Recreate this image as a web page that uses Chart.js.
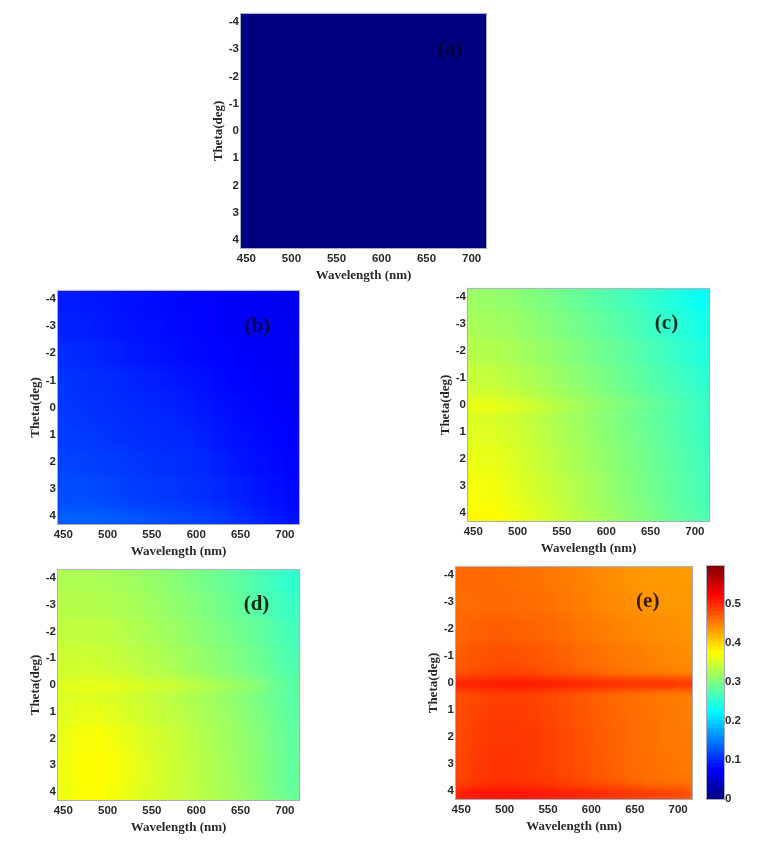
<!DOCTYPE html>
<html>
<head>
<meta charset="utf-8">
<title>Theta vs wavelength maps</title>
<script src="https://cdn.jsdelivr.net/npm/chart.js@4/dist/chart.umd.min.js"></script>
<style>
  html, body { margin: 0; background: #fff; }
  #page { position: relative; width: 762px; height: 841px; overflow: hidden; }
  canvas { position: absolute; filter: blur(0.45px); }
</style>
</head>
<body>
<div id="page"></div>
<script>
const wavelengths = [450, 470, 490, 510, 530, 550, 570, 590, 610, 630, 650, 670, 690, 710];
const thetaEdges = [-4.3, -3.5, -2.5, -1.5, -0.7, -0.2, 0.2, 0.7, 1.5, 2.5, 3.5, 3.9, 4.3];
const wavelengthTicks = [450, 500, 550, 600, 650, 700];
const thetaTicks = [-4, -3, -2, -1, 0, 1, 2, 3, 4];
const colorTicks = [0, 0.1, 0.2, 0.3, 0.4, 0.5];
const colorLevels = [0, .01, .02, .03, .04, .05, .06, .07, .08, .09, .1, .11, .12, .13, .14, .15, .16, .17, .18, .19,
  .2, .21, .22, .23, .24, .25, .26, .27, .28, .29, .3, .31, .32, .33, .34, .35, .36, .37, .38, .39,
  .4, .41, .42, .43, .44, .45, .46, .47, .48, .49, .5, .51, .52, .53, .54, .55, .56, .57, .58, .59];

const valuesA = [
  [0, 0, 0, 0, 0, 0, 0, 0, 0, 0, 0, 0, 0, 0],
  [0, 0, 0, 0, 0, 0, 0, 0, 0, 0, 0, 0, 0, 0],
  [0, 0, 0, 0, 0, 0, 0, 0, 0, 0, 0, 0, 0, 0],
  [0, 0, 0, 0, 0, 0, 0, 0, 0, 0, 0, 0, 0, 0],
  [0, 0, 0, 0, 0, 0, 0, 0, 0, 0, 0, 0, 0, 0],
  [0, 0, 0, 0, 0, 0, 0, 0, 0, 0, 0, 0, 0, 0],
  [0, 0, 0, 0, 0, 0, 0, 0, 0, 0, 0, 0, 0, 0],
  [0, 0, 0, 0, 0, 0, 0, 0, 0, 0, 0, 0, 0, 0],
  [0, 0, 0, 0, 0, 0, 0, 0, 0, 0, 0, 0, 0, 0],
  [0, 0, 0, 0, 0, 0, 0, 0, 0, 0, 0, 0, 0, 0],
  [0, 0, 0, 0, 0, 0, 0, 0, 0, 0, 0, 0, 0, 0],
  [0, 0, 0, 0, 0, 0, 0, 0, 0, 0, 0, 0, 0, 0],
];
const valuesB = [
  [.090, .089, .087, .085, .083, .081, .079, .077, .075, .073, .071, .069, .067, .065],
  [.094, .092, .090, .087, .085, .083, .080, .078, .076, .074, .072, .070, .068, .066],
  [.100, .098, .095, .092, .088, .085, .083, .080, .078, .076, .074, .072, .070, .068],
  [.105, .103, .100, .098, .095, .092, .088, .085, .082, .078, .076, .074, .072, .070],
  [.106, .104, .102, .100, .097, .095, .092, .089, .085, .081, .078, .076, .073, .071],
  [.107, .105, .103, .101, .099, .096, .094, .091, .087, .083, .079, .077, .074, .072],
  [.108, .106, .104, .102, .100, .098, .096, .093, .089, .085, .080, .078, .075, .073],
  [.110, .108, .106, .104, .102, .100, .098, .096, .092, .087, .083, .080, .077, .074],
  [.114, .113, .111, .109, .106, .104, .102, .100, .097, .092, .087, .083, .079, .076],
  [.118, .119, .117, .114, .111, .108, .106, .104, .101, .097, .092, .087, .082, .078],
  [.124, .125, .123, .120, .117, .114, .111, .109, .106, .102, .097, .091, .085, .081],
  [.133, .135, .134, .131, .128, .125, .121, .118, .114, .109, .103, .096, .089, .084],
];
const valuesC = [
  [.315, .313, .309, .303, .297, .290, .283, .276, .269, .262, .254, .246, .236, .226],
  [.322, .320, .316, .310, .304, .297, .290, .283, .276, .269, .261, .253, .244, .236],
  [.330, .328, .324, .318, .312, .305, .298, .291, .284, .276, .268, .260, .251, .243],
  [.340, .338, .333, .327, .320, .312, .305, .298, .290, .282, .274, .266, .258, .250],
  [.348, .345, .340, .333, .326, .318, .311, .303, .295, .287, .279, .271, .262, .254],
  [.365, .365, .360, .352, .342, .330, .322, .313, .304, .296, .288, .279, .270, .260],
  [.352, .350, .345, .338, .330, .323, .315, .307, .298, .290, .282, .274, .265, .257],
  [.356, .354, .349, .342, .334, .326, .318, .310, .301, .293, .285, .277, .268, .259],
  [.362, .360, .355, .347, .339, .330, .322, .314, .305, .297, .288, .280, .271, .262],
  [.368, .366, .360, .352, .344, .335, .327, .318, .309, .300, .291, .283, .274, .265],
  [.372, .370, .364, .356, .347, .338, .329, .320, .311, .303, .294, .285, .276, .267],
  [.378, .376, .370, .361, .352, .342, .333, .324, .315, .306, .297, .288, .279, .269],
];
const valuesD = [
  [.325, .325, .324, .321, .317, .312, .306, .299, .292, .285, .277, .269, .258, .250],
  [.330, .330, .329, .326, .322, .317, .311, .305, .298, .291, .283, .275, .265, .257],
  [.336, .337, .336, .333, .328, .323, .317, .311, .304, .297, .290, .282, .272, .263],
  [.342, .344, .343, .339, .334, .329, .323, .317, .310, .303, .296, .288, .277, .268],
  [.346, .349, .348, .344, .339, .333, .328, .321, .314, .307, .300, .292, .281, .271],
  [.358, .361, .361, .359, .355, .351, .347, .341, .333, .324, .316, .305, .290, .276],
  [.351, .354, .353, .349, .344, .338, .332, .326, .319, .312, .304, .296, .285, .274],
  [.356, .360, .360, .355, .349, .343, .337, .331, .323, .316, .308, .299, .288, .277],
  [.361, .368, .370, .365, .356, .349, .343, .336, .328, .320, .312, .303, .291, .279],
  [.362, .372, .374, .369, .360, .352, .345, .338, .330, .322, .314, .304, .292, .280],
  [.361, .371, .373, .368, .359, .352, .345, .338, .331, .323, .315, .305, .293, .281],
  [.360, .370, .372, .367, .358, .351, .344, .338, .331, .323, .315, .305, .293, .282],
];
const valuesE = [
  [.462, .462, .460, .458, .456, .453, .450, .446, .442, .438, .435, .433, .432, .431],
  [.458, .460, .461, .460, .459, .456, .452, .448, .444, .441, .438, .436, .434, .433],
  [.462, .466, .468, .467, .465, .462, .458, .454, .450, .446, .443, .440, .438, .436],
  [.468, .473, .476, .475, .473, .469, .465, .460, .456, .452, .449, .446, .442, .440],
  [.472, .477, .480, .480, .478, .474, .470, .465, .460, .456, .452, .449, .446, .444],
  [.505, .508, .510, .511, .511, .509, .507, .505, .503, .501, .500, .500, .500, .495],
  [.476, .481, .485, .485, .483, .479, .475, .470, .465, .460, .456, .453, .450, .447],
  [.478, .484, .488, .488, .486, .482, .477, .472, .467, .462, .458, .455, .452, .449],
  [.480, .487, .491, .491, .489, .485, .480, .474, .469, .464, .459, .456, .453, .450],
  [.480, .489, .493, .493, .490, .486, .481, .476, .470, .465, .460, .457, .454, .452],
  [.484, .491, .494, .494, .492, .489, .484, .480, .475, .470, .465, .460, .457, .455],
  [.510, .515, .517, .517, .515, .512, .509, .506, .503, .499, .495, .492, .489, .485],
];

const COLOR_MAX = 0.597;
const TICK_FONT = { family: '"Liberation Sans", Arial, sans-serif', size: 11.5, weight: 'bold' };
const TITLE_FONT = { family: '"Liberation Serif", "Times New Roman", serif', size: 13, weight: 'bold' };
const TEXT_COLOR = '#2a2a2a';
const FRAME_COLOR = '#a9adbc';

// MATLAB jet colormap
function jet(value) {
  const t = Math.max(0, Math.min(1, value / COLOR_MAX));
  const ch = (c) => Math.round(255 * Math.max(0, Math.min(1, 1.5 - Math.abs(4 * t - c))));
  return `rgb(${ch(3)},${ch(2)},${ch(1)})`;
}

const panelFrame = {
  id: 'panelFrame',
  // soften the cells like the interpolated shading of the original
  afterDatasetsDraw(chart, args, opts) {
    if (!opts.label) return;
    const { ctx, chartArea: a } = chart;
    const pad = 20;
    const off = document.createElement('canvas');
    off.width = a.width + 2 * pad;
    off.height = a.height + 2 * pad;
    const g = off.getContext('2d');
    g.drawImage(chart.canvas, a.left, a.top, a.width, a.height, 0, 0, off.width, off.height);
    g.drawImage(chart.canvas, a.left, a.top, a.width, a.height, pad, pad, a.width, a.height);
    ctx.save();
    ctx.beginPath();
    ctx.rect(a.left, a.top, a.width, a.height);
    ctx.clip();
    ctx.filter = 'blur(4px)';
    ctx.drawImage(off, a.left - pad, a.top - pad);
    ctx.restore();
  },
  afterDraw(chart, args, opts) {
    const { ctx, chartArea: a, scales } = chart;
    ctx.save();
    ctx.strokeStyle = FRAME_COLOR;
    ctx.lineWidth = 1;
    ctx.strokeRect(a.left - 0.5, a.top - 0.5, a.width + 1, a.height + 1);
    if (opts.label) {
      ctx.fillStyle = opts.labelColor;
      ctx.font = 'bold 21px "Liberation Serif", serif';
      ctx.textAlign = 'center';
      ctx.textBaseline = 'middle';
      ctx.fillText(opts.label, scales.x.getPixelForValue(opts.labelX), scales.y.getPixelForValue(opts.labelY));
    }
    ctx.restore();
  },
};

function addCanvas(left, top, width, height) {
  const canvas = document.createElement('canvas');
  canvas.width = width;
  canvas.height = height;
  canvas.style.left = left + 'px';
  canvas.style.top = top + 'px';
  canvas.style.width = width + 'px';
  canvas.style.height = height + 'px';
  document.getElementById('page').appendChild(canvas);
  return canvas;
}

function renderPanel(box, grid, label, labelColor, labelX) {
  const canvas = addCanvas(box.left - 36, box.top - 8, box.width + 40, box.height + 45);

  const datasets = grid.map((row, r) => ({
    data: row.map((v, c) => ({ x: wavelengths[c], y: [thetaEdges[r], thetaEdges[r + 1]] })),
    backgroundColor: row.map(jet),
    borderWidth: 0,
    inflateAmount: 0.6,
    grouped: false,
    barPercentage: 1,
    categoryPercentage: 1,
  }));

  new Chart(canvas, {
    type: 'bar',
    data: { datasets },
    plugins: [panelFrame],
    options: {
      responsive: false,
      animation: false,
      layout: { padding: { left: 4, top: 4, right: 4, bottom: 2 } },
      plugins: {
        legend: { display: false },
        tooltip: { enabled: false },
        panelFrame: { label, labelColor, labelX, labelY: -3 },
      },
      scales: {
        x: {
          type: 'linear',
          offset: false,
          min: 444,
          max: 716,
          afterBuildTicks: (scale) => { scale.ticks = wavelengthTicks.map((value) => ({ value })); },
          afterFit: (scale) => { scale.height = 35; },
          grid: { display: false, drawTicks: false },
          border: { display: false },
          ticks: { font: TICK_FONT, color: TEXT_COLOR, padding: 4, maxRotation: 0, autoSkip: false },
          title: { display: true, text: 'Wavelength (nm)', font: TITLE_FONT, color: TEXT_COLOR, padding: { top: 1, bottom: 0 } },
        },
        y: {
          type: 'linear',
          reverse: true,
          min: -4.3,
          max: 4.3,
          afterBuildTicks: (scale) => { scale.ticks = thetaTicks.map((value) => ({ value })); },
          afterFit: (scale) => { scale.width = 32; },
          grid: { display: false, drawTicks: false },
          border: { display: false },
          ticks: { font: TICK_FONT, color: TEXT_COLOR, padding: 2, autoSkip: false },
          title: { display: true, text: 'Theta(deg)', font: TITLE_FONT, color: TEXT_COLOR, padding: { top: 2, bottom: 0 } },
        },
      },
    },
  });
}

function renderColorbar(box) {
  const canvas = addCanvas(box.left - 4, box.top - 8, box.width + 38, box.height + 18);

  const datasets = colorLevels.map((level, i) => ({
    data: [{ x: 'c', y: [level, i + 1 < colorLevels.length ? colorLevels[i + 1] : COLOR_MAX] }],
    backgroundColor: jet(level + 0.005),
    borderWidth: 0,
    inflateAmount: 0.6,
    grouped: false,
    barPercentage: 1,
    categoryPercentage: 1,
  }));

  new Chart(canvas, {
    type: 'bar',
    data: { labels: ['c'], datasets },
    plugins: [panelFrame],
    options: {
      responsive: false,
      animation: false,
      layout: { padding: { left: 4, top: 4, right: 4, bottom: 10 } },
      plugins: { legend: { display: false }, tooltip: { enabled: false }, panelFrame: {} },
      scales: {
        x: { display: false, offset: true },
        y: {
          type: 'linear',
          position: 'right',
          min: 0,
          max: COLOR_MAX,
          afterBuildTicks: (scale) => { scale.ticks = colorTicks.map((value) => ({ value })); },
          afterFit: (scale) => { scale.width = 30; },
          grid: { display: false, drawTicks: false },
          border: { display: false },
          ticks: { font: TICK_FONT, color: TEXT_COLOR, padding: 1, autoSkip: false },
        },
      },
    },
  });
}

renderPanel({ left: 241, top: 13, width: 245, height: 235 }, valuesA, '(a)', '#000030', 676);
renderPanel({ left: 58, top: 290, width: 241, height: 234 }, valuesB, '(b)', '#000050', 669);
renderPanel({ left: 468, top: 288, width: 241, height: 233 }, valuesC, '(c)', '#0a2a24', 668);
renderPanel({ left: 58, top: 569, width: 241, height: 231 }, valuesD, '(d)', '#0a2a14', 668);
renderPanel({ left: 456, top: 566, width: 236, height: 233 }, valuesE, '(e)', '#3a1a08', 665);
renderColorbar({ left: 707, top: 566, width: 17, height: 233 });
</script>
</body>
</html>
